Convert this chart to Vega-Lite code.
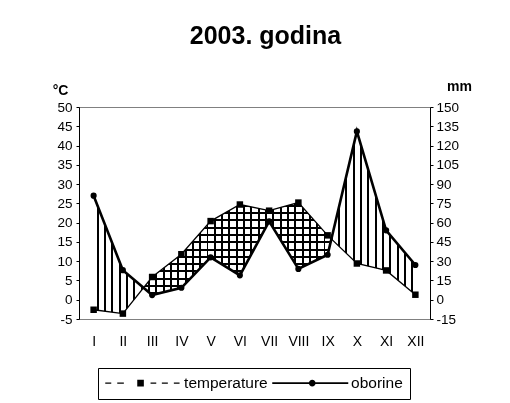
{
"$schema": "https://vega.github.io/schema/vega-lite/v6.json",
"width": 351, "height": 212,
"autosize": "none",
"padding": {"left": 79, "top": 107, "right": 80, "bottom": 84},
"background": "white",
"title": {"text": "2003. godina", "font": "Liberation Sans", "fontSize": 25, "fontWeight": "bold", "color": "black", "anchor": "middle", "dx": 11, "offset": 30},
"data": {"values": [
{"month": "I", "temperature": -2.6, "oborine": 81},
{"month": "II", "temperature": -3.6, "oborine": 23},
{"month": "III", "temperature": 5.9, "oborine": 3.6},
{"month": "IV", "temperature": 11.8, "oborine": 9.3},
{"month": "V", "temperature": 20.4, "oborine": 33},
{"month": "VI", "temperature": 24.7, "oborine": 19},
{"month": "VII", "temperature": 23.1, "oborine": 61},
{"month": "VIII", "temperature": 25.2, "oborine": 24},
{"month": "IX", "temperature": 16.7, "oborine": 35},
{"month": "X", "temperature": 9.4, "oborine": 131},
{"month": "XI", "temperature": 7.6, "oborine": 54},
{"month": "XII", "temperature": 1.3, "oborine": 27}
]},
"encoding": {
"x": {"field": "month", "type": "ordinal", "scale": {"domain": ["I","II","III","IV","V","VI","VII","VIII","IX","X","XI","XII"], "padding": 0.5},
 "axis": {"title": null, "labelAngle": 0, "ticks": false, "tickSize": 0, "labelPadding": 15, "labelFontSize": 14, "domainColor": "#808080", "zindex": 1}}
},
"layer": [
{"mark": {"type": "area", "fill": {"gradient": "linear", "x1": 0, "y1": 0, "x2": 0, "y2": 1, "stops": [
{"offset":0.02,"color":"rgba(0,0,0,0)"},{"offset":0.02,"color":"#000"},{"offset":0.037,"color":"#000"},{"offset":0.037,"color":"rgba(0,0,0,0)"},
{"offset":0.0825,"color":"rgba(0,0,0,0)"},{"offset":0.0825,"color":"#000"},{"offset":0.0995,"color":"#000"},{"offset":0.0995,"color":"rgba(0,0,0,0)"},
{"offset":0.145,"color":"rgba(0,0,0,0)"},{"offset":0.145,"color":"#000"},{"offset":0.162,"color":"#000"},{"offset":0.162,"color":"rgba(0,0,0,0)"},
{"offset":0.2075,"color":"rgba(0,0,0,0)"},{"offset":0.2075,"color":"#000"},{"offset":0.2245,"color":"#000"},{"offset":0.2245,"color":"rgba(0,0,0,0)"},
{"offset":0.27,"color":"rgba(0,0,0,0)"},{"offset":0.27,"color":"#000"},{"offset":0.287,"color":"#000"},{"offset":0.287,"color":"rgba(0,0,0,0)"},
{"offset":0.3325,"color":"rgba(0,0,0,0)"},{"offset":0.3325,"color":"#000"},{"offset":0.3495,"color":"#000"},{"offset":0.3495,"color":"rgba(0,0,0,0)"},
{"offset":0.395,"color":"rgba(0,0,0,0)"},{"offset":0.395,"color":"#000"},{"offset":0.412,"color":"#000"},{"offset":0.412,"color":"rgba(0,0,0,0)"},
{"offset":0.4575,"color":"rgba(0,0,0,0)"},{"offset":0.4575,"color":"#000"},{"offset":0.4745,"color":"#000"},{"offset":0.4745,"color":"rgba(0,0,0,0)"},
{"offset":0.52,"color":"rgba(0,0,0,0)"},{"offset":0.52,"color":"#000"},{"offset":0.537,"color":"#000"},{"offset":0.537,"color":"rgba(0,0,0,0)"},
{"offset":0.5825,"color":"rgba(0,0,0,0)"},{"offset":0.5825,"color":"#000"},{"offset":0.5995,"color":"#000"},{"offset":0.5995,"color":"rgba(0,0,0,0)"},
{"offset":0.645,"color":"rgba(0,0,0,0)"},{"offset":0.645,"color":"#000"},{"offset":0.662,"color":"#000"},{"offset":0.662,"color":"rgba(0,0,0,0)"},
{"offset":0.7075,"color":"rgba(0,0,0,0)"},{"offset":0.7075,"color":"#000"},{"offset":0.7245,"color":"#000"},{"offset":0.7245,"color":"rgba(0,0,0,0)"},
{"offset":0.77,"color":"rgba(0,0,0,0)"},{"offset":0.77,"color":"#000"},{"offset":0.787,"color":"#000"},{"offset":0.787,"color":"rgba(0,0,0,0)"},
{"offset":0.8325,"color":"rgba(0,0,0,0)"},{"offset":0.8325,"color":"#000"},{"offset":0.8495,"color":"#000"},{"offset":0.8495,"color":"rgba(0,0,0,0)"},
{"offset":0.895,"color":"rgba(0,0,0,0)"},{"offset":0.895,"color":"#000"},{"offset":0.912,"color":"#000"},{"offset":0.912,"color":"rgba(0,0,0,0)"},
{"offset":0.9575,"color":"rgba(0,0,0,0)"},{"offset":0.9575,"color":"#000"},{"offset":0.9745,"color":"#000"},{"offset":0.9745,"color":"rgba(0,0,0,0)"}
]}},
 "encoding": {"y": {"field": "temperature", "type": "quantitative", "scale": {"domain": [-5, 50], "nice": false, "zero": false}, "axis": null}, "y2": {"datum": -5}}},
{"mark": {"type": "area", "fill": "white", "stroke": "white", "strokeWidth": 1.6},
 "encoding": {"y": {"field": "oborine", "type": "quantitative", "scale": {"domain": [-15, 150], "nice": false, "zero": false}, "axis": null}, "y2": {"datum": -15}}},
{"mark": {"type": "area", "fill": {"gradient": "linear", "x1": 0, "y1": 0, "x2": 1, "y2": 0, "stops": [
{"offset":0.01,"color":"rgba(0,0,0,0)"},{"offset":0.01,"color":"#000"},{"offset":0.016,"color":"#000"},{"offset":0.016,"color":"rgba(0,0,0,0)"},
{"offset":0.03273,"color":"rgba(0,0,0,0)"},{"offset":0.03273,"color":"#000"},{"offset":0.03873,"color":"#000"},{"offset":0.03873,"color":"rgba(0,0,0,0)"},
{"offset":0.05545,"color":"rgba(0,0,0,0)"},{"offset":0.05545,"color":"#000"},{"offset":0.06145,"color":"#000"},{"offset":0.06145,"color":"rgba(0,0,0,0)"},
{"offset":0.07818,"color":"rgba(0,0,0,0)"},{"offset":0.07818,"color":"#000"},{"offset":0.08418,"color":"#000"},{"offset":0.08418,"color":"rgba(0,0,0,0)"},
{"offset":0.10091,"color":"rgba(0,0,0,0)"},{"offset":0.10091,"color":"#000"},{"offset":0.10691,"color":"#000"},{"offset":0.10691,"color":"rgba(0,0,0,0)"},
{"offset":0.12364,"color":"rgba(0,0,0,0)"},{"offset":0.12364,"color":"#000"},{"offset":0.12964,"color":"#000"},{"offset":0.12964,"color":"rgba(0,0,0,0)"},
{"offset":0.14636,"color":"rgba(0,0,0,0)"},{"offset":0.14636,"color":"#000"},{"offset":0.15236,"color":"#000"},{"offset":0.15236,"color":"rgba(0,0,0,0)"},
{"offset":0.16909,"color":"rgba(0,0,0,0)"},{"offset":0.16909,"color":"#000"},{"offset":0.17509,"color":"#000"},{"offset":0.17509,"color":"rgba(0,0,0,0)"},
{"offset":0.19182,"color":"rgba(0,0,0,0)"},{"offset":0.19182,"color":"#000"},{"offset":0.19782,"color":"#000"},{"offset":0.19782,"color":"rgba(0,0,0,0)"},
{"offset":0.21455,"color":"rgba(0,0,0,0)"},{"offset":0.21455,"color":"#000"},{"offset":0.22055,"color":"#000"},{"offset":0.22055,"color":"rgba(0,0,0,0)"},
{"offset":0.23727,"color":"rgba(0,0,0,0)"},{"offset":0.23727,"color":"#000"},{"offset":0.24327,"color":"#000"},{"offset":0.24327,"color":"rgba(0,0,0,0)"},
{"offset":0.26,"color":"rgba(0,0,0,0)"},{"offset":0.26,"color":"#000"},{"offset":0.266,"color":"#000"},{"offset":0.266,"color":"rgba(0,0,0,0)"},
{"offset":0.28273,"color":"rgba(0,0,0,0)"},{"offset":0.28273,"color":"#000"},{"offset":0.28873,"color":"#000"},{"offset":0.28873,"color":"rgba(0,0,0,0)"},
{"offset":0.30545,"color":"rgba(0,0,0,0)"},{"offset":0.30545,"color":"#000"},{"offset":0.31145,"color":"#000"},{"offset":0.31145,"color":"rgba(0,0,0,0)"},
{"offset":0.32818,"color":"rgba(0,0,0,0)"},{"offset":0.32818,"color":"#000"},{"offset":0.33418,"color":"#000"},{"offset":0.33418,"color":"rgba(0,0,0,0)"},
{"offset":0.35091,"color":"rgba(0,0,0,0)"},{"offset":0.35091,"color":"#000"},{"offset":0.35691,"color":"#000"},{"offset":0.35691,"color":"rgba(0,0,0,0)"},
{"offset":0.37364,"color":"rgba(0,0,0,0)"},{"offset":0.37364,"color":"#000"},{"offset":0.37964,"color":"#000"},{"offset":0.37964,"color":"rgba(0,0,0,0)"},
{"offset":0.39636,"color":"rgba(0,0,0,0)"},{"offset":0.39636,"color":"#000"},{"offset":0.40236,"color":"#000"},{"offset":0.40236,"color":"rgba(0,0,0,0)"},
{"offset":0.41909,"color":"rgba(0,0,0,0)"},{"offset":0.41909,"color":"#000"},{"offset":0.42509,"color":"#000"},{"offset":0.42509,"color":"rgba(0,0,0,0)"},
{"offset":0.44182,"color":"rgba(0,0,0,0)"},{"offset":0.44182,"color":"#000"},{"offset":0.44782,"color":"#000"},{"offset":0.44782,"color":"rgba(0,0,0,0)"},
{"offset":0.46455,"color":"rgba(0,0,0,0)"},{"offset":0.46455,"color":"#000"},{"offset":0.47055,"color":"#000"},{"offset":0.47055,"color":"rgba(0,0,0,0)"},
{"offset":0.48727,"color":"rgba(0,0,0,0)"},{"offset":0.48727,"color":"#000"},{"offset":0.49327,"color":"#000"},{"offset":0.49327,"color":"rgba(0,0,0,0)"},
{"offset":0.51,"color":"rgba(0,0,0,0)"},{"offset":0.51,"color":"#000"},{"offset":0.516,"color":"#000"},{"offset":0.516,"color":"rgba(0,0,0,0)"},
{"offset":0.53273,"color":"rgba(0,0,0,0)"},{"offset":0.53273,"color":"#000"},{"offset":0.53873,"color":"#000"},{"offset":0.53873,"color":"rgba(0,0,0,0)"},
{"offset":0.55545,"color":"rgba(0,0,0,0)"},{"offset":0.55545,"color":"#000"},{"offset":0.56145,"color":"#000"},{"offset":0.56145,"color":"rgba(0,0,0,0)"},
{"offset":0.57818,"color":"rgba(0,0,0,0)"},{"offset":0.57818,"color":"#000"},{"offset":0.58418,"color":"#000"},{"offset":0.58418,"color":"rgba(0,0,0,0)"},
{"offset":0.60091,"color":"rgba(0,0,0,0)"},{"offset":0.60091,"color":"#000"},{"offset":0.60691,"color":"#000"},{"offset":0.60691,"color":"rgba(0,0,0,0)"},
{"offset":0.62364,"color":"rgba(0,0,0,0)"},{"offset":0.62364,"color":"#000"},{"offset":0.62964,"color":"#000"},{"offset":0.62964,"color":"rgba(0,0,0,0)"},
{"offset":0.64636,"color":"rgba(0,0,0,0)"},{"offset":0.64636,"color":"#000"},{"offset":0.65236,"color":"#000"},{"offset":0.65236,"color":"rgba(0,0,0,0)"},
{"offset":0.66909,"color":"rgba(0,0,0,0)"},{"offset":0.66909,"color":"#000"},{"offset":0.67509,"color":"#000"},{"offset":0.67509,"color":"rgba(0,0,0,0)"},
{"offset":0.69182,"color":"rgba(0,0,0,0)"},{"offset":0.69182,"color":"#000"},{"offset":0.69782,"color":"#000"},{"offset":0.69782,"color":"rgba(0,0,0,0)"},
{"offset":0.71455,"color":"rgba(0,0,0,0)"},{"offset":0.71455,"color":"#000"},{"offset":0.72055,"color":"#000"},{"offset":0.72055,"color":"rgba(0,0,0,0)"},
{"offset":0.73727,"color":"rgba(0,0,0,0)"},{"offset":0.73727,"color":"#000"},{"offset":0.74327,"color":"#000"},{"offset":0.74327,"color":"rgba(0,0,0,0)"},
{"offset":0.76,"color":"rgba(0,0,0,0)"},{"offset":0.76,"color":"#000"},{"offset":0.766,"color":"#000"},{"offset":0.766,"color":"rgba(0,0,0,0)"},
{"offset":0.78273,"color":"rgba(0,0,0,0)"},{"offset":0.78273,"color":"#000"},{"offset":0.78873,"color":"#000"},{"offset":0.78873,"color":"rgba(0,0,0,0)"},
{"offset":0.80545,"color":"rgba(0,0,0,0)"},{"offset":0.80545,"color":"#000"},{"offset":0.81145,"color":"#000"},{"offset":0.81145,"color":"rgba(0,0,0,0)"},
{"offset":0.82818,"color":"rgba(0,0,0,0)"},{"offset":0.82818,"color":"#000"},{"offset":0.83418,"color":"#000"},{"offset":0.83418,"color":"rgba(0,0,0,0)"},
{"offset":0.85091,"color":"rgba(0,0,0,0)"},{"offset":0.85091,"color":"#000"},{"offset":0.85691,"color":"#000"},{"offset":0.85691,"color":"rgba(0,0,0,0)"},
{"offset":0.87364,"color":"rgba(0,0,0,0)"},{"offset":0.87364,"color":"#000"},{"offset":0.87964,"color":"#000"},{"offset":0.87964,"color":"rgba(0,0,0,0)"},
{"offset":0.89636,"color":"rgba(0,0,0,0)"},{"offset":0.89636,"color":"#000"},{"offset":0.90236,"color":"#000"},{"offset":0.90236,"color":"rgba(0,0,0,0)"},
{"offset":0.91909,"color":"rgba(0,0,0,0)"},{"offset":0.91909,"color":"#000"},{"offset":0.92509,"color":"#000"},{"offset":0.92509,"color":"rgba(0,0,0,0)"},
{"offset":0.94182,"color":"rgba(0,0,0,0)"},{"offset":0.94182,"color":"#000"},{"offset":0.94782,"color":"#000"},{"offset":0.94782,"color":"rgba(0,0,0,0)"},
{"offset":0.96455,"color":"rgba(0,0,0,0)"},{"offset":0.96455,"color":"#000"},{"offset":0.97055,"color":"#000"},{"offset":0.97055,"color":"rgba(0,0,0,0)"},
{"offset":0.98727,"color":"rgba(0,0,0,0)"},{"offset":0.98727,"color":"#000"},{"offset":0.99327,"color":"#000"},{"offset":0.99327,"color":"rgba(0,0,0,0)"}
]}},
 "encoding": {"y": {"field": "temperature", "type": "quantitative", "scale": {"domain": [-5, 50], "nice": false, "zero": false}, "axis": null}, "y2": {"datum": -5}}},
{"mark": {"type": "area", "blend": "difference", "fill": {"gradient": "linear", "x1": 0, "y1": 0, "x2": 1, "y2": 0, "stops": [
{"offset":0.01,"color":"rgba(255,255,255,0)"},{"offset":0.01,"color":"#fff"},{"offset":0.016,"color":"#fff"},{"offset":0.016,"color":"rgba(255,255,255,0)"},
{"offset":0.03273,"color":"rgba(255,255,255,0)"},{"offset":0.03273,"color":"#fff"},{"offset":0.03873,"color":"#fff"},{"offset":0.03873,"color":"rgba(255,255,255,0)"},
{"offset":0.05545,"color":"rgba(255,255,255,0)"},{"offset":0.05545,"color":"#fff"},{"offset":0.06145,"color":"#fff"},{"offset":0.06145,"color":"rgba(255,255,255,0)"},
{"offset":0.07818,"color":"rgba(255,255,255,0)"},{"offset":0.07818,"color":"#fff"},{"offset":0.08418,"color":"#fff"},{"offset":0.08418,"color":"rgba(255,255,255,0)"},
{"offset":0.10091,"color":"rgba(255,255,255,0)"},{"offset":0.10091,"color":"#fff"},{"offset":0.10691,"color":"#fff"},{"offset":0.10691,"color":"rgba(255,255,255,0)"},
{"offset":0.12364,"color":"rgba(255,255,255,0)"},{"offset":0.12364,"color":"#fff"},{"offset":0.12964,"color":"#fff"},{"offset":0.12964,"color":"rgba(255,255,255,0)"},
{"offset":0.14636,"color":"rgba(255,255,255,0)"},{"offset":0.14636,"color":"#fff"},{"offset":0.15236,"color":"#fff"},{"offset":0.15236,"color":"rgba(255,255,255,0)"},
{"offset":0.16909,"color":"rgba(255,255,255,0)"},{"offset":0.16909,"color":"#fff"},{"offset":0.17509,"color":"#fff"},{"offset":0.17509,"color":"rgba(255,255,255,0)"},
{"offset":0.19182,"color":"rgba(255,255,255,0)"},{"offset":0.19182,"color":"#fff"},{"offset":0.19782,"color":"#fff"},{"offset":0.19782,"color":"rgba(255,255,255,0)"},
{"offset":0.21455,"color":"rgba(255,255,255,0)"},{"offset":0.21455,"color":"#fff"},{"offset":0.22055,"color":"#fff"},{"offset":0.22055,"color":"rgba(255,255,255,0)"},
{"offset":0.23727,"color":"rgba(255,255,255,0)"},{"offset":0.23727,"color":"#fff"},{"offset":0.24327,"color":"#fff"},{"offset":0.24327,"color":"rgba(255,255,255,0)"},
{"offset":0.26,"color":"rgba(255,255,255,0)"},{"offset":0.26,"color":"#fff"},{"offset":0.266,"color":"#fff"},{"offset":0.266,"color":"rgba(255,255,255,0)"},
{"offset":0.28273,"color":"rgba(255,255,255,0)"},{"offset":0.28273,"color":"#fff"},{"offset":0.28873,"color":"#fff"},{"offset":0.28873,"color":"rgba(255,255,255,0)"},
{"offset":0.30545,"color":"rgba(255,255,255,0)"},{"offset":0.30545,"color":"#fff"},{"offset":0.31145,"color":"#fff"},{"offset":0.31145,"color":"rgba(255,255,255,0)"},
{"offset":0.32818,"color":"rgba(255,255,255,0)"},{"offset":0.32818,"color":"#fff"},{"offset":0.33418,"color":"#fff"},{"offset":0.33418,"color":"rgba(255,255,255,0)"},
{"offset":0.35091,"color":"rgba(255,255,255,0)"},{"offset":0.35091,"color":"#fff"},{"offset":0.35691,"color":"#fff"},{"offset":0.35691,"color":"rgba(255,255,255,0)"},
{"offset":0.37364,"color":"rgba(255,255,255,0)"},{"offset":0.37364,"color":"#fff"},{"offset":0.37964,"color":"#fff"},{"offset":0.37964,"color":"rgba(255,255,255,0)"},
{"offset":0.39636,"color":"rgba(255,255,255,0)"},{"offset":0.39636,"color":"#fff"},{"offset":0.40236,"color":"#fff"},{"offset":0.40236,"color":"rgba(255,255,255,0)"},
{"offset":0.41909,"color":"rgba(255,255,255,0)"},{"offset":0.41909,"color":"#fff"},{"offset":0.42509,"color":"#fff"},{"offset":0.42509,"color":"rgba(255,255,255,0)"},
{"offset":0.44182,"color":"rgba(255,255,255,0)"},{"offset":0.44182,"color":"#fff"},{"offset":0.44782,"color":"#fff"},{"offset":0.44782,"color":"rgba(255,255,255,0)"},
{"offset":0.46455,"color":"rgba(255,255,255,0)"},{"offset":0.46455,"color":"#fff"},{"offset":0.47055,"color":"#fff"},{"offset":0.47055,"color":"rgba(255,255,255,0)"},
{"offset":0.48727,"color":"rgba(255,255,255,0)"},{"offset":0.48727,"color":"#fff"},{"offset":0.49327,"color":"#fff"},{"offset":0.49327,"color":"rgba(255,255,255,0)"},
{"offset":0.51,"color":"rgba(255,255,255,0)"},{"offset":0.51,"color":"#fff"},{"offset":0.516,"color":"#fff"},{"offset":0.516,"color":"rgba(255,255,255,0)"},
{"offset":0.53273,"color":"rgba(255,255,255,0)"},{"offset":0.53273,"color":"#fff"},{"offset":0.53873,"color":"#fff"},{"offset":0.53873,"color":"rgba(255,255,255,0)"},
{"offset":0.55545,"color":"rgba(255,255,255,0)"},{"offset":0.55545,"color":"#fff"},{"offset":0.56145,"color":"#fff"},{"offset":0.56145,"color":"rgba(255,255,255,0)"},
{"offset":0.57818,"color":"rgba(255,255,255,0)"},{"offset":0.57818,"color":"#fff"},{"offset":0.58418,"color":"#fff"},{"offset":0.58418,"color":"rgba(255,255,255,0)"},
{"offset":0.60091,"color":"rgba(255,255,255,0)"},{"offset":0.60091,"color":"#fff"},{"offset":0.60691,"color":"#fff"},{"offset":0.60691,"color":"rgba(255,255,255,0)"},
{"offset":0.62364,"color":"rgba(255,255,255,0)"},{"offset":0.62364,"color":"#fff"},{"offset":0.62964,"color":"#fff"},{"offset":0.62964,"color":"rgba(255,255,255,0)"},
{"offset":0.64636,"color":"rgba(255,255,255,0)"},{"offset":0.64636,"color":"#fff"},{"offset":0.65236,"color":"#fff"},{"offset":0.65236,"color":"rgba(255,255,255,0)"},
{"offset":0.66909,"color":"rgba(255,255,255,0)"},{"offset":0.66909,"color":"#fff"},{"offset":0.67509,"color":"#fff"},{"offset":0.67509,"color":"rgba(255,255,255,0)"},
{"offset":0.69182,"color":"rgba(255,255,255,0)"},{"offset":0.69182,"color":"#fff"},{"offset":0.69782,"color":"#fff"},{"offset":0.69782,"color":"rgba(255,255,255,0)"},
{"offset":0.71455,"color":"rgba(255,255,255,0)"},{"offset":0.71455,"color":"#fff"},{"offset":0.72055,"color":"#fff"},{"offset":0.72055,"color":"rgba(255,255,255,0)"},
{"offset":0.73727,"color":"rgba(255,255,255,0)"},{"offset":0.73727,"color":"#fff"},{"offset":0.74327,"color":"#fff"},{"offset":0.74327,"color":"rgba(255,255,255,0)"},
{"offset":0.76,"color":"rgba(255,255,255,0)"},{"offset":0.76,"color":"#fff"},{"offset":0.766,"color":"#fff"},{"offset":0.766,"color":"rgba(255,255,255,0)"},
{"offset":0.78273,"color":"rgba(255,255,255,0)"},{"offset":0.78273,"color":"#fff"},{"offset":0.78873,"color":"#fff"},{"offset":0.78873,"color":"rgba(255,255,255,0)"},
{"offset":0.80545,"color":"rgba(255,255,255,0)"},{"offset":0.80545,"color":"#fff"},{"offset":0.81145,"color":"#fff"},{"offset":0.81145,"color":"rgba(255,255,255,0)"},
{"offset":0.82818,"color":"rgba(255,255,255,0)"},{"offset":0.82818,"color":"#fff"},{"offset":0.83418,"color":"#fff"},{"offset":0.83418,"color":"rgba(255,255,255,0)"},
{"offset":0.85091,"color":"rgba(255,255,255,0)"},{"offset":0.85091,"color":"#fff"},{"offset":0.85691,"color":"#fff"},{"offset":0.85691,"color":"rgba(255,255,255,0)"},
{"offset":0.87364,"color":"rgba(255,255,255,0)"},{"offset":0.87364,"color":"#fff"},{"offset":0.87964,"color":"#fff"},{"offset":0.87964,"color":"rgba(255,255,255,0)"},
{"offset":0.89636,"color":"rgba(255,255,255,0)"},{"offset":0.89636,"color":"#fff"},{"offset":0.90236,"color":"#fff"},{"offset":0.90236,"color":"rgba(255,255,255,0)"},
{"offset":0.91909,"color":"rgba(255,255,255,0)"},{"offset":0.91909,"color":"#fff"},{"offset":0.92509,"color":"#fff"},{"offset":0.92509,"color":"rgba(255,255,255,0)"},
{"offset":0.94182,"color":"rgba(255,255,255,0)"},{"offset":0.94182,"color":"#fff"},{"offset":0.94782,"color":"#fff"},{"offset":0.94782,"color":"rgba(255,255,255,0)"},
{"offset":0.96455,"color":"rgba(255,255,255,0)"},{"offset":0.96455,"color":"#fff"},{"offset":0.97055,"color":"#fff"},{"offset":0.97055,"color":"rgba(255,255,255,0)"},
{"offset":0.98727,"color":"rgba(255,255,255,0)"},{"offset":0.98727,"color":"#fff"},{"offset":0.99327,"color":"#fff"},{"offset":0.99327,"color":"rgba(255,255,255,0)"}
]}},
 "encoding": {"y": {"field": "oborine", "type": "quantitative", "scale": {"domain": [-15, 150], "nice": false, "zero": false}, "axis": null}, "y2": {"datum": -15}}},
{"mark": {"type": "line", "color": "black", "strokeWidth": 1.3},
 "encoding": {"y": {"field": "temperature", "type": "quantitative", "scale": {"domain": [-5, 50], "nice": false, "zero": false},
  "axis": {"orient": "left", "title": "°C", "titleAngle": 0, "titleX": -19, "titleY": -13, "titleAlign": "center", "titleBaseline": "alphabetic", "titleFontSize": 14, "titleFontWeight": "bold", "titleColor": "black",
   "values": [-5,0,5,10,15,20,25,30,35,40,45,50], "labelExpr": "'' + datum.value", "labelFontSize": 13.5, "tickSize": 3, "labelPadding": 4, "zindex": 1, "grid": false}}}},
{"mark": {"type": "line", "color": "black", "strokeWidth": 2.6},
 "encoding": {"y": {"field": "oborine", "type": "quantitative", "scale": {"domain": [-15, 150], "nice": false, "zero": false},
  "axis": {"orient": "right", "title": "mm", "titleAngle": 0, "titleX": 29, "titleY": -17, "titleAlign": "center", "titleBaseline": "alphabetic", "titleFontSize": 14, "titleFontWeight": "bold", "titleColor": "black",
   "values": [-15,0,15,30,45,60,75,90,105,120,135,150], "labelExpr": "'' + datum.value", "labelFontSize": 13.5, "tickSize": 3, "labelPadding": 3, "zindex": 1, "grid": false}}}},
{"mark": {"type": "point", "shape": "square", "filled": true, "color": "black", "size": 42, "opacity": 1},
 "encoding": {"y": {"field": "temperature", "type": "quantitative", "scale": {"domain": [-5, 50], "nice": false, "zero": false}, "axis": null}}},
{"mark": {"type": "point", "shape": "circle", "filled": true, "color": "black", "size": 38, "opacity": 1},
 "encoding": {"y": {"field": "oborine", "type": "quantitative", "scale": {"domain": [-15, 150], "nice": false, "zero": false}, "axis": null}}},
{"mark": {"type": "point", "filled": true, "color": "black", "size": 64, "opacity": 0},
 "encoding": {"y": {"field": "temperature", "type": "quantitative", "scale": {"domain": [-5, 50], "nice": false, "zero": false}, "axis": null},
  "shape": {"datum": "temperature", "type": "nominal",
   "scale": {"domain": ["temperature", "oborine"], "range": [
    "M-1.875,-0.16H-0.375V0.16H-1.875ZM1.125,-0.16H2.775V0.16H1.125ZM6.125,-0.83H7.775V0.83H6.125ZM9.45,-0.16H10.875V0.16H9.45ZM12.275,-0.16H13.775V0.16H12.275ZM15.275,-0.16H16.7V0.16H15.275Z",
    "M-1.875,-0.19H17.125V0.19H-1.875ZM7.295,0A0.83,0.83 0 1,1 8.955,0A0.83,0.83 0 1,1 7.295,0Z"]},
   "legend": {"orient": "none", "legendX": 19, "legendY": 261, "direction": "horizontal", "title": null, "strokeColor": "black", "fillColor": "white", "padding": 7, "symbolSize": 64, "symbolOpacity": 1, "symbolFillColor": "black", "symbolStrokeWidth": 0, "labelFontSize": 15.5, "labelColor": "black", "labelOffset": 63.6, "columnPadding": 4}}}},
{"mark": {"type": "point", "filled": true, "color": "black", "size": 64, "opacity": 0},
 "encoding": {"y": {"field": "oborine", "type": "quantitative", "scale": {"domain": [-15, 150], "nice": false, "zero": false}, "axis": null},
  "shape": {"datum": "oborine", "type": "nominal"}}}
],
"resolve": {"scale": {"y": "independent"}},
"config": {
 "font": "Liberation Sans",
 "view": {"stroke": "#808080", "strokeWidth": 1},
 "axis": {"labelColor": "black", "domainColor": "black", "tickColor": "black", "grid": false, "labelFont": "Liberation Sans", "titleFont": "Liberation Sans"},
 "legend": {"labelFont": "Liberation Sans"}
}
}
